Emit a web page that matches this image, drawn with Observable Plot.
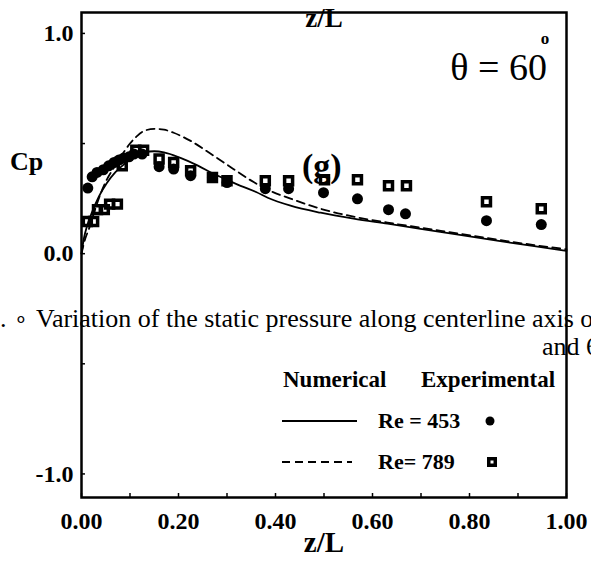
<!DOCTYPE html>
<html>
<head>
<meta charset="utf-8">
<script src="https://cdn.jsdelivr.net/npm/d3@7"></script>
<script src="https://cdn.jsdelivr.net/npm/@observablehq/plot@0.6"></script>
<style>
  html, body { margin: 0; padding: 0; background: #fff; }
  #chart svg { display: block; }
</style>
</head>
<body>
<div id="chart"></div>
<script>
// ---- Numerical curves (z/L, Cp) ----
const numX453 = [0.000, 0.005, 0.012, 0.022, 0.036, 0.052, 0.070, 0.090, 0.110, 0.130, 0.150, 0.170, 0.204, 0.240, 0.272, 0.300, 0.328, 0.360, 0.384, 0.431, 0.493, 0.561, 0.631, 0.699, 0.780, 0.860, 0.930, 1.000];
const numY453 = [0.000, 0.070, 0.130, 0.190, 0.260, 0.320, 0.370, 0.410, 0.440, 0.460, 0.465, 0.460, 0.435, 0.400, 0.363, 0.335, 0.308, 0.280, 0.254, 0.218, 0.186, 0.159, 0.136, 0.113, 0.085, 0.058, 0.035, 0.013];
const numX789 = [0.000, 0.008, 0.015, 0.025, 0.039, 0.053, 0.070, 0.087, 0.100, 0.115, 0.130, 0.150, 0.170, 0.190, 0.225, 0.272, 0.313, 0.355, 0.384, 0.431, 0.493, 0.561, 0.631, 0.699, 0.780, 0.860, 0.930, 1.000];
const numY789 = [0.000, 0.070, 0.110, 0.180, 0.270, 0.340, 0.400, 0.460, 0.500, 0.535, 0.558, 0.567, 0.563, 0.549, 0.512, 0.445, 0.385, 0.325, 0.290, 0.250, 0.204, 0.168, 0.141, 0.118, 0.090, 0.063, 0.040, 0.020];

// ---- Experimental points ----
const expX453 = [0.013, 0.022, 0.032, 0.045, 0.056, 0.067, 0.077, 0.087, 0.098, 0.108, 0.125, 0.160, 0.190, 0.225, 0.270, 0.300, 0.379, 0.427, 0.499, 0.569, 0.633, 0.668, 0.835, 0.948];
const expY453 = [0.298, 0.349, 0.369, 0.381, 0.399, 0.414, 0.425, 0.434, 0.440, 0.452, 0.452, 0.395, 0.384, 0.354, 0.346, 0.323, 0.295, 0.295, 0.277, 0.249, 0.200, 0.181, 0.150, 0.132];
const expX789 = [0.012, 0.025, 0.033, 0.047, 0.058, 0.074, 0.084, 0.112, 0.128, 0.160, 0.190, 0.225, 0.270, 0.300, 0.379, 0.427, 0.501, 0.569, 0.633, 0.670, 0.835, 0.948];
const expY789 = [0.146, 0.146, 0.200, 0.200, 0.225, 0.225, 0.399, 0.470, 0.470, 0.430, 0.414, 0.376, 0.346, 0.331, 0.331, 0.331, 0.336, 0.336, 0.308, 0.308, 0.236, 0.204];

// ---- Ticks ----
const xTickValues = [0, 0.2, 0.4, 0.6, 0.8, 1.0];
const xTickLabels = ["0.00", "0.20", "0.40", "0.60", "0.80", "1.00"];
const xMinorTicks = [0, 0.1, 0.2, 0.3, 0.4, 0.5, 0.6, 0.7, 0.8, 0.9, 1.0];
const yTickValues = [-1, 0, 1];
const yTickLabels = ["-1.0", "0.0", "1.0"];
const yMinorTicks = [-1, -0.5, 0, 0.5, 1];

// ---- Texts ----
const axisTitle = "z/L";
const yTitle = "Cp";
const panelTag = "(g)";
const angleText = "θ = 60";
const angleSup = "o";
const captionLine1 = "Variation of the static pressure along centerline axis of";
const captionLine2 = "and 6";
const legendHeads = ["Numerical", "Experimental"];
const seriesNames = ["Re = 453", "Re= 789"];

const num453 = numX453.map((x, i) => ({x, y: numY453[i]}));
const num789 = numX789.map((x, i) => ({x, y: numY789[i]}));
const exp453 = expX453.map((x, i) => ({x, y: expY453[i]}));
const exp789 = expX789.map((x, i) => ({x, y: expY789[i]}));

const FONT = "'Liberation Serif', 'Times New Roman', Times, serif";

const plot = Plot.plot({
  width: 591,
  height: 565,
  marginLeft: 81,
  marginRight: 25,
  marginTop: 12,
  marginBottom: 68,
  style: {fontFamily: FONT, fontSize: "24px", fontWeight: "bold", color: "black", background: "white", overflow: "visible"},
  x: {domain: [0, 1], label: null},
  y: {domain: [-1.107, 1.095], label: null},
  marks: [
    Plot.line(num453, {x: "x", y: "y", stroke: "black", strokeWidth: 1.8, curve: "monotone-x"}),
    Plot.line(num789, {x: "x", y: "y", stroke: "black", strokeWidth: 1.8, strokeDasharray: "8,5", curve: "monotone-x"}),
    Plot.dot(exp453, {x: "x", y: "y", r: 5.5, fill: "black", stroke: "none"}),
    Plot.dot(exp789, {x: "x", y: "y", symbol: "square", r: 4.5, fill: "none", stroke: "black", strokeWidth: 3.5}),
    Plot.axisX(xMinorTicks, {tickSize: -4, tickFormat: () => "", label: null, strokeWidth: 1.5}),
    Plot.axisY(yMinorTicks, {tickSize: -4, tickFormat: () => "", label: null, strokeWidth: 1.5}),
    Plot.axisX(xTickValues, {tickSize: 0, tickPadding: 14, fontSize: 24, fontWeight: "bold",
      tickFormat: d => xTickLabels[xTickValues.indexOf(d)], label: null}),
    Plot.axisY(yTickValues, {tickSize: 0, tickPadding: 8, fontSize: 24, fontWeight: "bold",
      tickFormat: d => yTickLabels[yTickValues.indexOf(d)], label: null}),
    Plot.frame({stroke: "black", strokeWidth: 2.5})
  ]
});

document.getElementById("chart").appendChild(plot);
const svg = d3.select(plot);

function txt(x, y, s, size, weight, anchor) {
  return svg.append("text")
    .attr("x", x).attr("y", y)
    .attr("text-anchor", anchor || "start")
    .style("font-family", FONT)
    .style("font-size", size + "px")
    .style("font-weight", weight)
    .attr("fill", "black")
    .text(s);
}

// axis titles
txt(324, 27, axisTitle, 27, "bold", "middle");
txt(324, 552, axisTitle, 29, "bold", "middle");
txt(10, 170, yTitle, 26, "bold");

// annotations
txt(302, 177, panelTag, 34, "bold");
txt(547, 80, angleText, 38, "normal", "end");
txt(545, 44, angleSup, 17, "bold", "middle");

// overlapping caption text
txt(0, 327, ".", 26, "normal");
txt(14, 326, "∘", 22, "normal");
txt(36, 327, captionLine1, 26, "normal");
txt(542, 355, captionLine2, 26, "normal");

// legend
txt(283, 387, legendHeads[0], 23, "bold");
txt(421, 387, legendHeads[1], 23, "bold");
svg.append("line").attr("x1", 282).attr("x2", 357).attr("y1", 421).attr("y2", 421)
  .attr("stroke", "black").attr("stroke-width", 1.8);
txt(378, 428, seriesNames[0], 22, "bold");
svg.append("circle").attr("cx", 490).attr("cy", 421).attr("r", 4.5).attr("fill", "black");
svg.append("line").attr("x1", 282).attr("x2", 352).attr("y1", 462).attr("y2", 462)
  .attr("stroke", "black").attr("stroke-width", 1.8).attr("stroke-dasharray", "8,5");
txt(378, 469, seriesNames[1], 22, "bold");
svg.append("rect").attr("x", 488.75).attr("y", 458.75).attr("width", 6.5).attr("height", 6.5)
  .attr("fill", "none").attr("stroke", "black").attr("stroke-width", 3.5);
</script>
</body>
</html>
